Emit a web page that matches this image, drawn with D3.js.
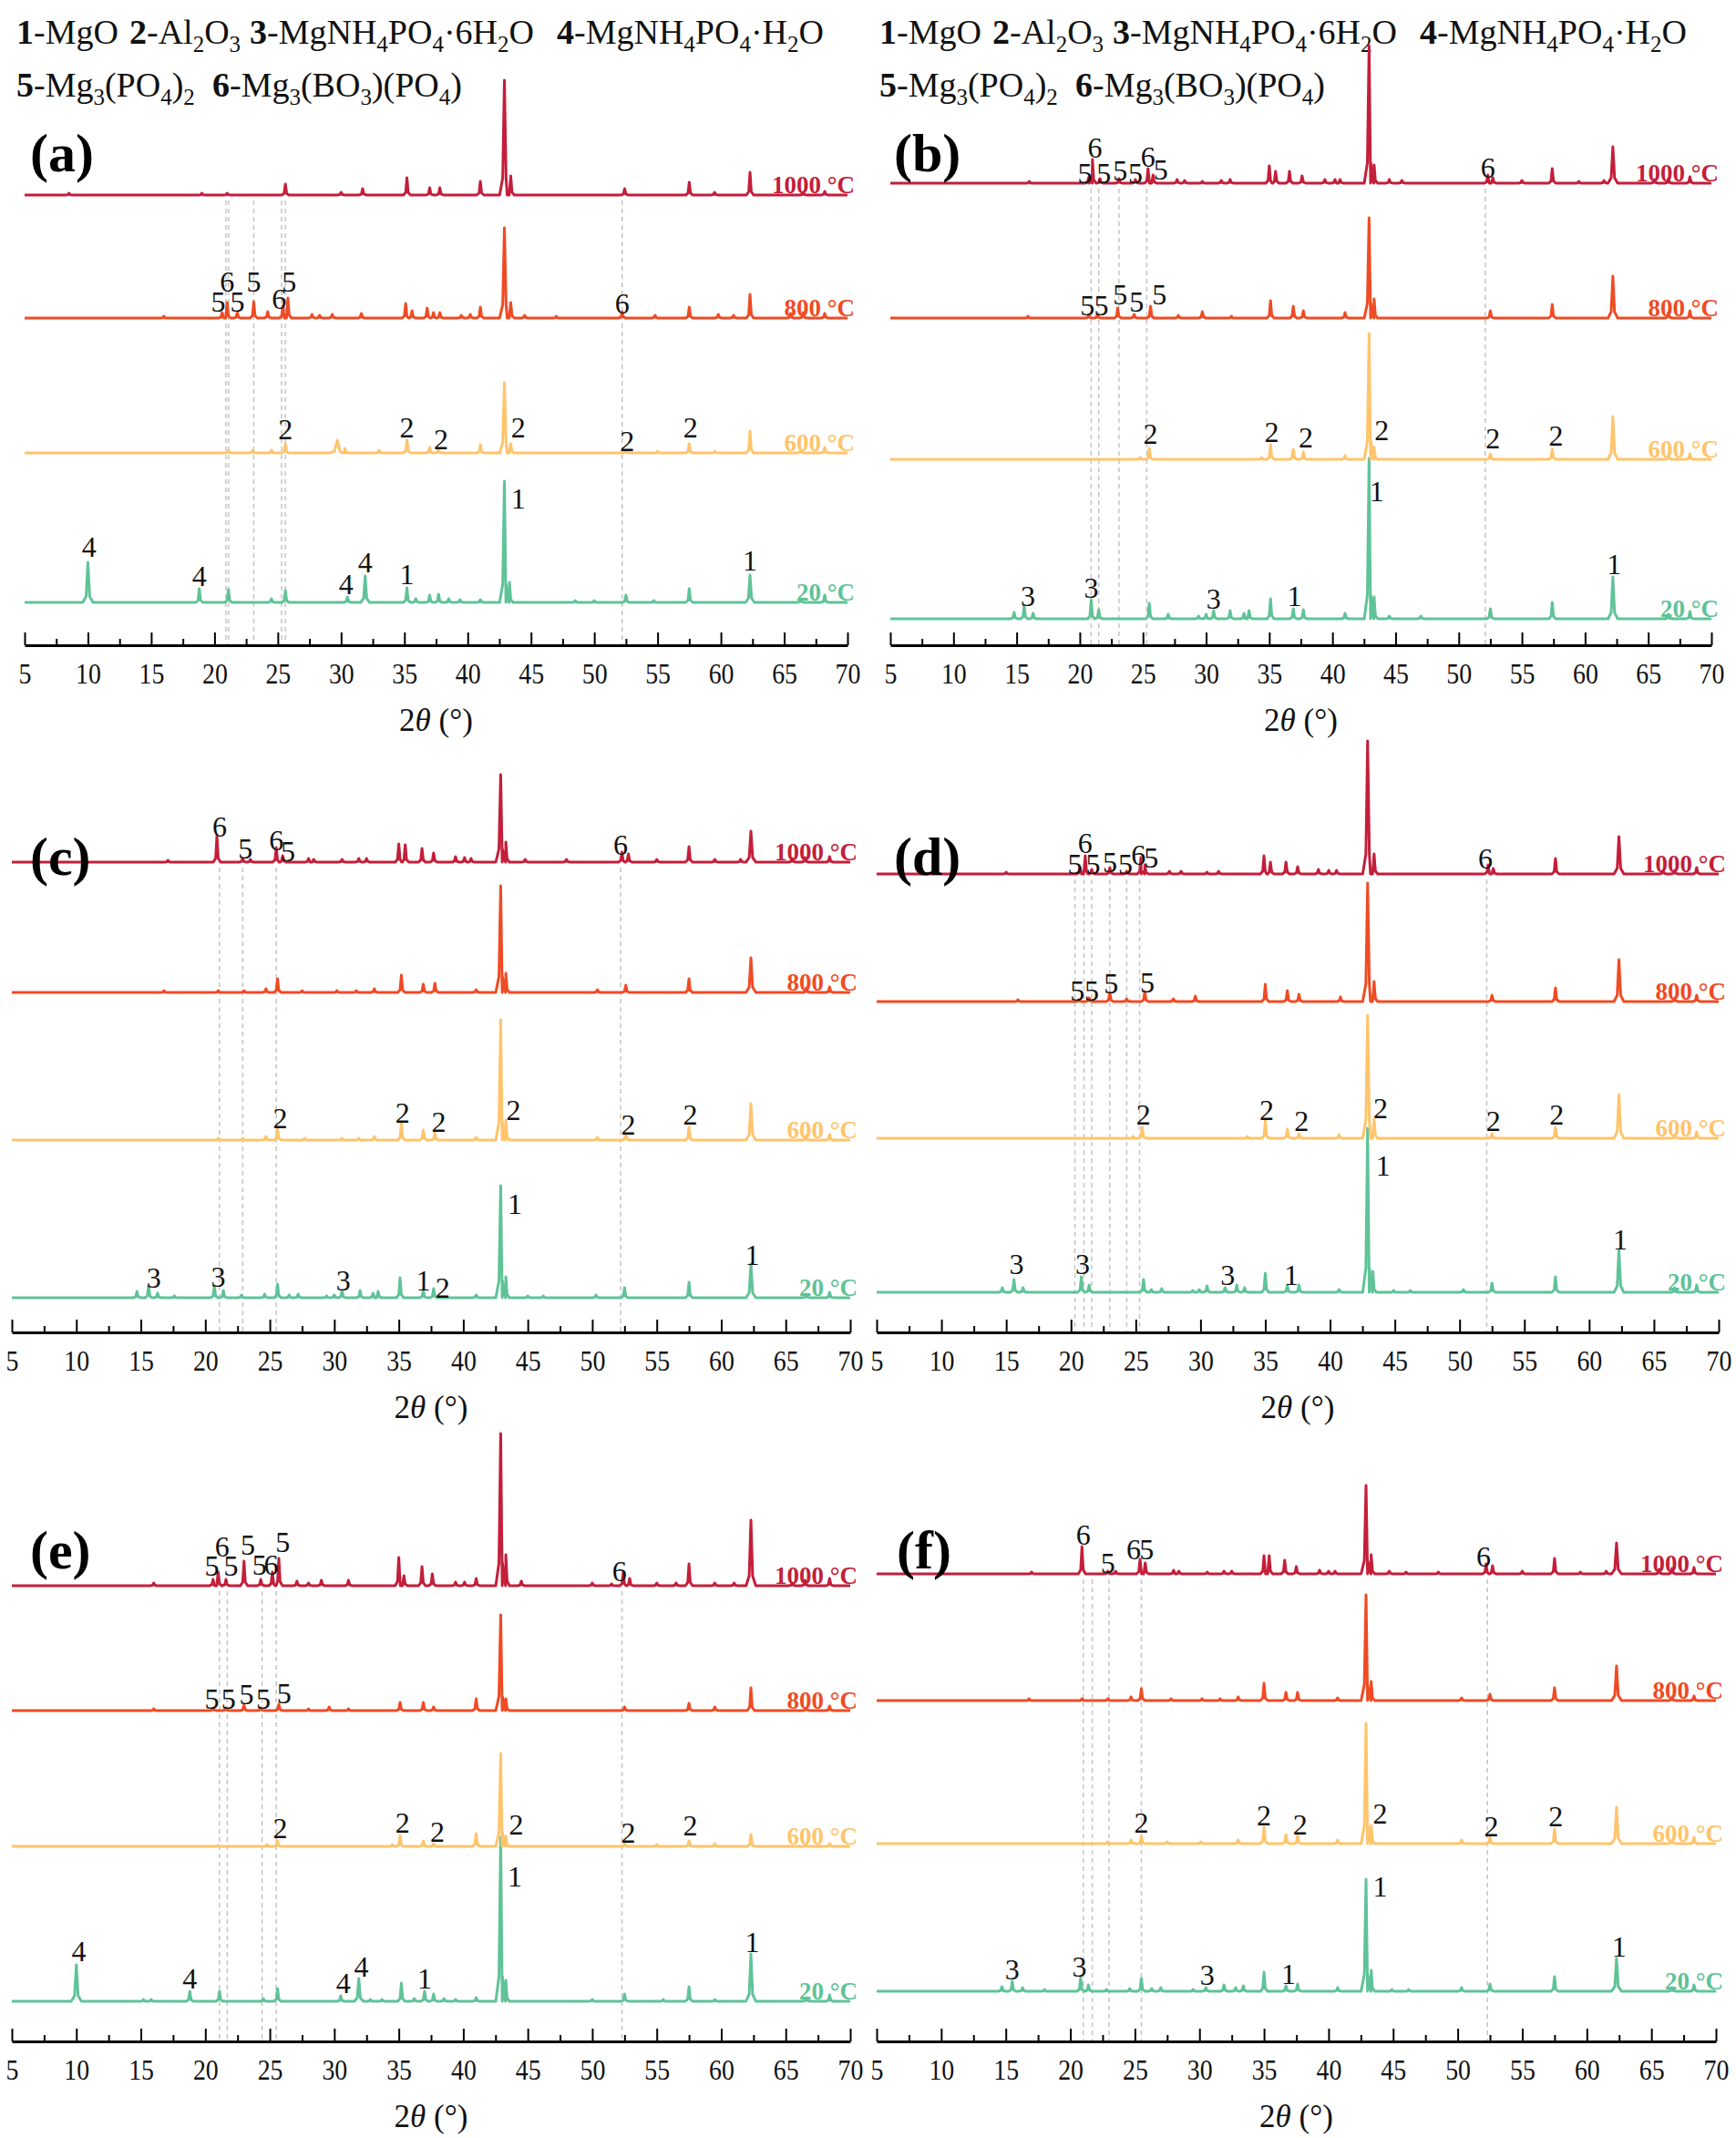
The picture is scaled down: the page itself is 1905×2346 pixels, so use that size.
<!DOCTYPE html>
<html>
<head>
<meta charset="utf-8">
<script src="https://cdn.jsdelivr.net/npm/d3@7"></script>
<style>
body { margin: 0; background: #fff; }
svg { display: block; }
text { font-family: "Liberation Serif", "Times New Roman", serif; }
</style>
</head>
<body>
<div id="chart"></div>
<script>
// ---- data: peaks, [2theta, intensity (a.u.), half width] ----
var temps = ["20 °C", "600 °C", "800 °C", "1000 °C"];
var tickValues = d3.range(5, 71, 5);

var a20 = [[10.0,44,0.4],[18.8,15],[21.1,14],[24.5,4],[25.6,13],[30.5,6],[31.9,29,0.35],[35.2,16],[35.9,4],[37.0,8],[37.7,9],[38.5,4],[39.4,3],[41.0,3],[42.9,133,0.38],[43.3,22],[48.5,2],[50.0,2],[52.5,8],[54.7,2],[57.5,15],[62.3,30,0.35],[66.3,4],[68.2,8]];
var a600 = [[21.1,3],[23.0,3],[24.5,3],[25.6,10],[29.7,14,0.6],[30.3,5],[33.0,3],[35.2,14],[37.0,6],[37.7,4],[41.0,9],[42.9,77,0.38],[43.4,10],[52.5,3],[55.0,2],[57.5,10],[59.5,2],[62.3,24],[66.3,3],[68.2,6]];
var a800 = [[16.0,2],[20.6,6],[21.0,17],[21.8,6],[23.1,18],[24.2,7],[25.4,13],[25.8,22],[27.7,4],[28.3,3],[29.3,4],[31.6,5],[35.1,16],[35.6,8],[36.8,11],[37.3,6],[37.8,6],[39.5,3],[40.2,4],[41.0,12],[42.9,99,0.38],[43.4,17],[44.5,3],[47.0,2],[52.2,7],[54.8,3],[57.5,12],[59.8,4],[61.0,3],[62.3,26],[65.5,5],[66.5,6],[68.2,5]];
var a1000 = [[8.5,2],[19.0,2],[21.0,2],[25.6,12],[30.0,3],[31.7,7],[35.2,19],[37.0,8],[37.8,8],[41.0,15],[42.9,126,0.38],[43.4,21],[52.4,7],[57.5,14],[59.5,3],[62.3,25],[66.5,3],[68.2,4]];

var b20 = [[14.8,7],[15.6,14],[16.3,6],[20.9,21],[21.5,10],[25.5,17],[27.0,5],[29.4,3],[30.0,5],[30.6,9],[31.9,9],[33.0,6],[33.4,9],[35.1,22],[36.9,11],[37.7,10],[41.0,6],[42.9,176,0.38],[43.3,24],[44.5,3],[47.0,3],[52.5,11],[57.4,18],[62.2,46,0.38],[66.6,5],[68.3,8]];
var b600 = [[24.8,2],[25.5,12],[34.4,2],[35.1,16],[36.9,11],[37.7,8],[41.0,4],[42.9,138,0.38],[43.3,13],[52.5,6],[57.4,11],[62.2,47,0.38],[66.6,4],[68.3,6]];
var b800 = [[15.9,2],[20.7,3],[21.4,4],[23.0,11],[24.3,4],[25.6,13],[27.8,3],[29.7,7],[32.0,2],[35.1,19],[36.9,13],[37.7,8],[41.0,6],[42.9,110,0.38],[43.3,21],[52.5,8],[57.4,15],[62.2,46,0.38],[66.6,6],[68.3,8]];
var b1000 = [[16.0,2],[20.7,6],[21.0,26],[21.6,5],[23.1,5],[24.4,4],[25.4,16],[25.8,9],[27.7,4],[28.3,3],[29.7,2],[31.2,3],[31.9,4],[35.0,19],[35.5,13],[36.6,13],[37.6,8],[39.4,4],[40.2,4],[40.6,4],[42.9,151,0.38],[43.3,20],[44.5,4],[45.5,3],[52.3,9],[52.7,6],[55.0,3],[57.4,16],[59.5,2],[61.5,3],[62.2,40,0.38],[65.5,4],[66.6,5],[68.3,7]];

var c20 = [[14.7,7],[15.6,13],[16.3,5],[17.6,2],[20.7,13],[21.4,8],[22.8,3],[24.6,4],[25.6,15],[26.5,3],[27.2,4],[29.4,2],[30.0,3],[30.6,8],[32.0,8],[33.0,5],[33.4,7],[35.1,22],[36.9,8],[37.7,10],[41.0,3],[42.9,123,0.38],[43.3,23],[45.0,2],[46.2,2],[50.3,3],[52.5,11],[57.5,17],[62.3,37,0.38],[66.6,4],[68.4,6]];
var c600 = [[21.0,2],[22.9,2],[24.7,4],[25.6,12],[27.7,2],[30.6,2],[31.9,2],[33.1,4],[35.2,18],[36.9,11],[37.8,8],[41.0,3],[42.9,132,0.38],[43.3,22],[50.4,3],[52.6,7],[57.5,14],[62.3,40,0.38],[66.6,5],[68.4,6]];
var c800 = [[16.8,2],[21.0,2],[23.0,2],[24.7,4],[25.6,15],[27.5,2],[30.2,2],[31.7,2],[33.1,4],[35.2,19],[36.9,9],[37.8,10],[41.0,3],[42.9,117,0.38],[43.3,21],[50.4,3],[52.6,8],[57.5,15],[62.3,38,0.38],[66.6,5],[68.4,6]];
var c1000 = [[17.1,2],[20.9,29],[22.9,4],[23.5,3],[25.5,16],[26.0,7],[28.0,4],[28.4,3],[30.6,3],[31.9,4],[32.5,4],[35.0,20],[35.5,19],[36.8,15],[37.7,10],[39.4,6],[40.1,5],[40.6,4],[42.9,96,0.38],[43.3,22],[44.8,3],[48.0,3],[52.3,11],[52.8,9],[55.0,3],[57.5,17],[59.5,3],[61.5,3],[62.3,34,0.38],[65.5,4],[66.5,5],[68.4,6]];

var d20 = [[14.7,5],[15.6,14],[16.3,5],[20.8,17],[21.4,8],[25.6,14],[26.2,3],[27.0,4],[29.4,2],[29.9,3],[30.5,7],[31.9,5],[32.8,8],[33.4,5],[35.0,21],[36.7,8],[37.6,8],[40.7,3],[42.9,180,0.38],[43.3,23],[44.9,2],[46.2,2],[50.3,3],[52.5,10],[57.4,17],[62.3,46,0.38],[66.6,5],[68.3,8]];
var d600 = [[24.8,2],[25.5,12],[33.6,2],[35.0,19],[36.7,10],[37.6,5],[40.7,4],[42.9,135,0.38],[43.4,21],[52.5,5],[57.4,12],[62.3,48,0.38],[66.6,4],[68.3,7]];
var d800 = [[15.9,2],[20.6,2],[21.4,4],[23.0,10],[24.3,3],[25.7,11],[27.9,3],[29.6,6],[35.0,19],[36.7,12],[37.6,8],[40.8,5],[42.9,130,0.38],[43.4,22],[52.5,7],[57.4,15],[62.3,46,0.38],[66.6,4],[68.3,7]];
var d1000 = [[15.0,2],[20.7,7],[21.1,20],[21.6,5],[23.0,7],[24.3,3],[25.4,18],[25.7,10],[27.6,3],[28.5,3],[30.5,2],[31.4,3],[34.9,20],[35.4,13],[36.6,13],[37.5,8],[39.1,5],[39.9,4],[40.5,4],[42.9,146,0.38],[43.4,22],[52.2,10],[52.6,6],[57.4,17],[62.3,41,0.38],[65.7,4],[66.6,4],[68.3,7]];

var e20 = [[10.0,40,0.4],[15.2,2],[15.8,2],[18.8,11],[21.1,11],[24.5,3],[25.6,14],[30.5,6],[31.9,25,0.35],[32.8,2],[33.7,2],[35.2,20],[36.2,3],[37.0,11],[37.7,8],[38.5,3],[39.4,2],[41.0,4],[42.9,180,0.38],[43.3,23],[50.0,2],[52.5,8],[55.5,2],[57.5,16],[59.5,2],[62.3,52,0.38],[66.6,4],[68.4,7]];
var e600 = [[21.0,1],[24.8,2],[25.6,6],[34.5,2],[35.1,12],[36.9,6],[37.7,3],[41.0,14],[42.9,102,0.38],[43.3,11],[52.5,3],[55.0,2],[57.5,6],[59.5,3],[62.3,13],[66.6,2],[68.4,3]];
var e800 = [[16.0,2],[20.6,3],[21.6,3],[23.0,6],[24.3,3],[25.7,7],[28.0,2],[29.6,4],[31.1,2],[35.1,9],[36.9,9],[37.7,4],[41.0,13],[42.9,105,0.38],[43.3,13],[52.5,4],[57.5,8],[59.5,4],[62.3,25],[66.6,3],[68.4,5]];
var e1000 = [[16.0,3],[20.6,7],[21.0,15],[21.6,7],[23.0,27],[24.3,7],[25.2,15],[25.7,30],[27.1,5],[28.0,3],[29.0,6],[31.1,6],[35.0,31],[35.4,11],[36.8,21],[37.6,13],[39.4,4],[40.1,4],[41.0,8],[42.9,167,0.38],[43.3,34],[44.5,5],[50.0,3],[51.5,2],[52.4,14],[52.9,8],[55.0,3],[56.5,3],[57.5,24],[59.5,3],[61.0,3],[62.3,72,0.38],[65.5,3],[66.5,6],[68.4,8]];

var f20 = [[14.7,5],[15.5,11],[16.3,4],[18.0,2],[20.8,15],[21.4,7],[22.8,2],[24.6,3],[25.5,14],[26.3,3],[27.0,4],[29.5,2],[30.5,4],[31.9,7],[32.8,4],[33.4,6],[35.0,21],[36.7,6],[37.6,8],[40.7,4],[42.9,123,0.38],[43.3,23],[44.9,2],[46.2,2],[50.3,4],[52.5,8],[57.5,16],[62.3,36,0.38],[66.6,4],[68.3,7]];
var f600 = [[22.9,2],[24.7,4],[25.5,8],[27.5,2],[30.1,2],[33.0,4],[35.0,18],[36.7,10],[37.6,9],[40.7,4],[42.9,132,0.38],[43.3,20],[50.3,4],[52.5,7],[57.5,16],[62.3,40,0.38],[66.6,4],[68.3,7]];
var f800 = [[16.8,2],[20.9,2],[22.9,2],[24.7,4],[25.5,13],[27.8,2],[30.2,2],[31.6,2],[33.0,4],[35.0,19],[36.7,9],[37.6,9],[40.7,3],[42.9,116,0.38],[43.3,21],[50.3,3],[52.5,7],[57.5,14],[62.3,38,0.38],[66.6,4],[68.3,5]];
var f1000 = [[17.0,2],[20.9,30],[22.9,3],[23.5,3],[25.4,16],[25.8,12],[28.0,4],[28.4,3],[30.6,2],[31.9,3],[32.5,3],[35.0,20],[35.4,20],[36.6,15],[37.5,8],[39.3,4],[40.0,3],[40.5,3],[42.9,97,0.38],[43.3,21],[44.7,3],[46.0,2],[48.5,2],[52.2,11],[52.7,9],[55.0,3],[57.5,17],[59.5,2],[61.5,3],[62.3,34,0.38],[65.6,5],[66.6,6],[68.3,7]];

// phase labels: [pattern index (0=20,1=600,2=800,3=1000), 2theta, height above baseline, text]
var aLabels = [[0,10.1,50,"4"],[0,18.8,18,"4"],[0,30.4,9,"4"],[0,31.9,33,"4"],[0,35.2,20,"1"],[0,44.0,103,"1"],[0,62.3,35,"1"],
  [1,25.6,15,"2"],[1,35.2,17,"2"],[1,37.9,4,"2"],[1,44.0,17,"2"],[1,52.6,2,"2"],[1,57.6,17,"2"],
  [2,20.3,7,"5"],[2,21.0,29,"6"],[2,21.8,7,"5"],[2,23.1,29,"5"],[2,25.1,10,"6"],[2,25.9,29,"5"],[2,52.2,5,"6"]];
var bLabels = [[3,20.4,0,"5"],[3,21.2,28,"6"],[3,21.9,0,"5"],[3,23.2,3,"5"],[3,24.4,0,"5"],[3,25.4,18,"6"],[3,26.4,4,"5"],[3,52.3,6,"6"],
  [2,20.6,3,"5"],[2,21.7,3,"5"],[2,23.2,15,"5"],[2,24.5,7,"5"],[2,26.3,15,"5"],
  [1,25.6,17,"2"],[1,35.2,19,"2"],[1,37.9,13,"2"],[1,43.9,21,"2"],[1,52.7,12,"2"],[1,57.7,15,"2"],
  [0,15.9,14,"3"],[0,20.9,23,"3"],[0,30.6,11,"3"],[0,37.0,14,"1"],[0,43.5,129,"1"],[0,62.3,49,"1"]];
var cLabels = [[3,21.1,28,"6"],[3,23.1,4,"5"],[3,25.5,13,"6"],[3,26.4,1,"5"],[3,52.2,8,"6"],
  [1,25.8,13,"2"],[1,35.3,19,"2"],[1,38.1,9,"2"],[1,43.9,22,"2"],[1,52.8,6,"2"],[1,57.6,17,"2"],
  [0,16.0,11,"3"],[0,21.0,12,"3"],[0,30.7,8,"3"],[0,36.9,8,"1"],[0,38.4,0,"2"],[0,44.0,92,"1"],[0,62.4,36,"1"]];
var dLabels = [[3,20.3,0,"5"],[3,21.1,23,"6"],[3,21.7,0,"5"],[3,23.0,2,"5"],[3,24.2,0,"5"],[3,25.2,10,"6"],[3,26.2,7,"5"],[3,52.0,6,"6"],
  [2,20.5,1,"5"],[2,21.6,1,"5"],[2,23.1,9,"5"],[2,25.9,10,"5"],
  [1,25.6,15,"2"],[1,35.1,20,"2"],[1,37.8,8,"2"],[1,43.9,22,"2"],[1,52.6,8,"2"],[1,57.5,15,"2"],
  [0,15.8,20,"3"],[0,20.9,20,"3"],[0,32.1,8,"3"],[0,37.0,8,"1"],[0,44.1,128,"1"],[0,62.4,47,"1"]];
var eLabels = [[3,20.5,11,"5"],[3,21.3,32,"6"],[3,22.0,11,"5"],[3,23.3,34,"5"],[3,24.2,12,"5"],[3,25.1,12,"6"],[3,26.0,37,"5"],[3,52.1,5,"6"],
  [2,20.5,2,"5"],[2,21.8,2,"5"],[2,23.2,7,"5"],[2,24.5,2,"5"],[2,26.1,8,"5"],
  [1,25.8,9,"2"],[1,35.3,15,"2"],[1,38.0,5,"2"],[1,44.1,13,"2"],[1,52.8,4,"2"],[1,57.6,12,"2"],
  [0,10.2,44,"4"],[0,18.8,14,"4"],[0,30.7,9,"4"],[0,32.1,27,"4"],[0,37.0,14,"1"],[0,44.0,126,"1"],[0,62.4,54,"1"]];
var fLabels = [[3,21.0,32,"6"],[3,22.9,1,"5"],[3,24.9,16,"6"],[3,25.9,16,"5"],[3,52.0,8,"6"],
  [1,25.5,12,"2"],[1,35.0,20,"2"],[1,37.8,10,"2"],[1,44.0,22,"2"],[1,52.6,8,"2"],[1,57.6,19,"2"],
  [0,15.5,13,"3"],[0,20.7,16,"3"],[0,30.6,7,"3"],[0,36.9,8,"1"],[0,44.0,104,"1"],[0,62.5,38,"1"]];

// reference lines (2theta)
var aRefs = [20.9, 21.1, 23.1, 25.3, 25.6, 52.2];
var bRefs = [20.9, 21.5, 23.1, 25.3, 52.1];
var cRefs = [21.1, 22.9, 25.5, 52.2];
var dRefs = [20.3, 21.0, 21.6, 23.0, 24.3, 25.3, 52.1];
var eRefs = [21.1, 21.7, 24.4, 25.5, 52.3];
var fRefs = [21.0, 21.7, 23.0, 25.5, 52.3];

// ---- layout ----
var W = 1905, H = 2346;
var colors = ["#5fc398", "#ffc46c", "#ef4b24", "#c41e3a"];
var panels = [
  {key:"(a)", x0:27,  x1:930,  axisY:708,  bases:[661,497,349,214],    data:[a20,a600,a800,a1000], labels:aLabels, refs:aRefs, tag:[33,188]},
  {key:"(b)", x0:977, x1:1878, axisY:708,  bases:[679,504,349,201],    data:[b20,b600,b800,b1000], labels:bLabels, refs:bRefs, tag:[981,188]},
  {key:"(c)", x0:13,  x1:933,  axisY:1462, bases:[1424,1251,1089,946], data:[c20,c600,c800,c1000], labels:cLabels, refs:cRefs, tag:[33,960]},
  {key:"(d)", x0:962, x1:1886, axisY:1462, bases:[1418,1249,1099,959], data:[d20,d600,d800,d1000], labels:dLabels, refs:dRefs, tag:[981,960]},
  {key:"(e)", x0:13,  x1:933,  axisY:2240, bases:[2196,2026,1877,1740],data:[e20,e600,e800,e1000], labels:eLabels, refs:eRefs, tag:[33,1721]},
  {key:"(f)", x0:962, x1:1883, axisY:2240, bases:[2185,2023,1866,1727],data:[f20,f600,f800,f1000], labels:fLabels, refs:fRefs, tag:[984,1721]}
];

var svg = d3.select("#chart").append("svg")
  .attr("width", W).attr("height", H);

// legend (same over a and b)
function drawLegend(x0) {
  var g = svg.append("g").attr("class", "legend").style("font-size", "38px");
  var lines = [
    {y:48, parts:[
      [x0, "1", "-MgO"],
      [x0+124, "2", "-Al", "2", "O", "3"],
      [x0+256, "3", "-MgNH", "4", "PO", "4", "·6H", "2", "O"],
      [x0+593, "4", "-MgNH", "4", "PO", "4", "·H", "2", "O"]]},
    {y:106, parts:[
      [x0, "5", "-Mg", "3", "(PO", "4", ")", "2"],
      [x0+215, "6", "-Mg", "3", "(BO", "3", ")(PO", "4", ")"]]}
  ];
  lines.forEach(function(ln) {
    ln.parts.forEach(function(p) {
      var t = g.append("text").attr("x", p[0]).attr("y", ln.y).attr("fill", "#111");
      t.append("tspan").style("font-weight", "bold").text(p[1]);
      for (var i = 2; i < p.length; i++) {
        var sub = (i % 2 == 1);
        t.append("tspan")
          .attr("dy", sub ? 9 : (i > 2 ? -9 : 0))
          .style("font-size", sub ? "25px" : null)
          .text(p[i]);
      }
    });
  });
}
drawLegend(18);
drawLegend(965);

var line = d3.line().x(function(d){return d[0];}).y(function(d){return d[1];});

panels.forEach(function(p) {
  var x = d3.scaleLinear().domain([5, 70]).range([p.x0, p.x1]);
  var g = svg.append("g").attr("class", "panel");

  // dashed reference lines
  g.append("g").selectAll("line")
    .data(p.refs)
    .enter()
    .append("line")
    .attr("x1", function(d){return x(d);})
    .attr("x2", function(d){return x(d);})
    .attr("y1", p.bases[3] + 6)
    .attr("y2", p.axisY)
    .attr("stroke", "#c4c4c4")
    .attr("stroke-width", 1.5)
    .attr("stroke-dasharray", "5,4");

  // patterns
  p.data.forEach(function(peaks, k) {
    var y = d3.scaleLinear().domain([0, 100]).range([p.bases[k], p.bases[k] - 100]);
    var pts = [[5, 0], [70, 0]];
    peaks.forEach(function(pk) {
      var w = pk[2] || 0.28;
      pts.push([pk[0]-w, 0], [pk[0]-w*0.35, pk[1]*0.15], [pk[0], pk[1]], [pk[0]+w*0.35, pk[1]*0.15], [pk[0]+w, 0]);
    });
    pts.sort(function(a, b){return a[0] - b[0];});
    g.append("path")
      .datum(pts.map(function(d){return [x(d[0]), y(d[1])];}))
      .attr("d", line)
      .attr("fill", "none")
      .attr("stroke", colors[k])
      .attr("stroke-width", 3)
      .attr("stroke-linejoin", "round");

    g.append("text")
      .attr("x", p.x1 + 8)
      .attr("y", p.bases[k] - 2)
      .attr("text-anchor", "end")
      .attr("fill", colors[k])
      .style("font-size", "27px")
      .style("font-weight", "bold")
      .text(temps[k]);
  });

  // phase numbers
  g.append("g").selectAll("text")
    .data(p.labels)
    .enter()
    .append("text")
    .attr("x", function(d){return x(d[1]);})
    .attr("y", function(d){return p.bases[d[0]] - d[2];})
    .attr("text-anchor", "middle")
    .attr("fill", "#111")
    .style("font-size", "32px")
    .text(function(d){return d[3];});

  // axis
  var ax = g.append("g").attr("transform", "translate(0," + p.axisY + ")")
    .call(d3.axisBottom(x).tickValues(tickValues).tickSizeInner(-14).tickSizeOuter(0).tickPadding(19));
  ax.select(".domain").attr("stroke-width", 3);
  ax.selectAll(".tick line").attr("stroke-width", 2);
  ax.selectAll(".tick text")
    .style("font-size", "32px")
    .style("font-family", "'Liberation Serif', serif")
    .attr("fill", "#111")
    .attr("transform", "scale(0.87,1)");
  var minor = g.append("g").attr("transform", "translate(0," + p.axisY + ")")
    .call(d3.axisBottom(x).tickValues(d3.range(7.5, 70, 5)).tickSize(-7).tickFormat(""));
  minor.select(".domain").remove();
  minor.selectAll(".tick line").attr("stroke-width", 2);

  // axis title
  var tt = g.append("text")
    .attr("x", (p.x0 + p.x1) / 2)
    .attr("y", p.axisY + 94)
    .attr("text-anchor", "middle")
    .style("font-size", "35px")
    .attr("fill", "#111");
  tt.append("tspan").text("2");
  tt.append("tspan").style("font-style", "italic").text("θ");
  tt.append("tspan").text(" (°)");

  // panel tag
  g.append("text")
    .attr("x", p.tag[0])
    .attr("y", p.tag[1])
    .style("font-size", "60px")
    .style("font-weight", "bold")
    .attr("fill", "#000")
    .text(p.key);
});
</script>
</body>
</html>
